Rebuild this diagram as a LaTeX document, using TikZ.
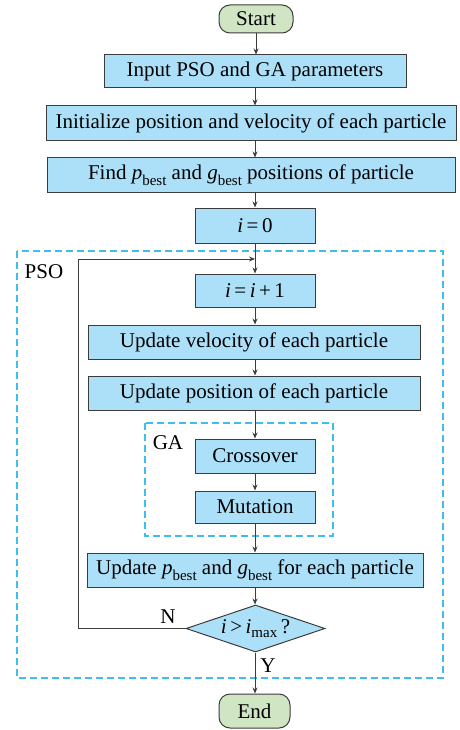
\documentclass[tikz,border=0pt]{standalone}
\usepackage{fontspec}
\setmainfont{Liberation Serif}
\usetikzlibrary{shapes.geometric,arrows.meta}
\definecolor{boxblue}{RGB}{172,224,249}
\definecolor{boxgreen}{RGB}{207,229,196}
\definecolor{dashblue}{RGB}{60,190,238}
\definecolor{edge}{RGB}{60,60,60}
\newcommand{\sbest}[1]{\textit{#1}\raisebox{-5.5pt}{\fontsize{15}{16}\selectfont best}}
\tikzset{
  procbox/.style={draw=edge,line width=1pt,fill=boxblue,inner sep=0pt,font=\fontsize{21}{24}\selectfont},
  termbox/.style={draw=edge,line width=1pt,fill=boxgreen,rounded corners=11pt,inner sep=0pt,font=\fontsize{21}{24}\selectfont},
  decbox/.style={draw=edge,line width=1pt,fill=boxblue,diamond,inner sep=0pt,font=\fontsize{21}{24}\selectfont},
  arr/.style={draw=edge,line width=0.9pt,-{Stealth[length=6pt,width=5pt]}},
  plainline/.style={draw=edge,line width=0.9pt},
  groupbox/.style={draw=dashblue,line width=1.2pt,dash pattern=on 7pt off 4pt},
  lbl/.style={font=\fontsize{21}{24}\selectfont,inner sep=0pt}
}
\begin{document}
\begin{tikzpicture}[x=1pt,y=-1pt]
\useasboundingbox (0,0) rectangle (459,730);
% groups
\draw[groupbox] (17,251) rectangle (443,678);
\draw[groupbox] (145,423) rectangle (333,536);
\node[lbl] (psolbl) at (44,272) {PSO};
\node[lbl] (galbl) at (168,443) {GA};
% nodes
\node[termbox,minimum width=74pt,minimum height=28pt] (start) at (256,19) {Start};
\node[procbox,minimum width=302pt,minimum height=33pt] (input) at (255,71.5) {Input PSO and GA parameters};
\node[procbox,minimum width=410pt,minimum height=35pt] (init) at (251,123.5) {Initialize position and velocity of each particle};
\node[procbox,minimum width=408pt,minimum height=34pt] (find) at (251,175) {Find \sbest{p} and \sbest{g} positions of particle};
\node[procbox,minimum width=120pt,minimum height=35pt] (izero) at (255,225.5) {\textit{i}\,=\,0};
\node[procbox,minimum width=120pt,minimum height=33pt] (inc) at (255,290.5) {\textit{i}\,=\,\textit{i}\,+\,1};
\node[procbox,minimum width=332pt,minimum height=34pt] (vel) at (254,342) {Update velocity of each particle};
\node[procbox,minimum width=332pt,minimum height=34pt] (pos) at (254,393) {Update position of each particle};
\node[procbox,minimum width=120pt,minimum height=34pt] (cross) at (255,456) {Crossover};
\node[procbox,minimum width=120pt,minimum height=32pt] (mut) at (255,507) {Mutation};
\node[procbox,minimum width=336pt,minimum height=34pt] (upd) at (255,570) {Update \sbest{p} and \sbest{g} for each particle};
\node[decbox,minimum width=139pt,minimum height=47pt,aspect=2.9] (dec) at (255.5,628.5) {\textit{i}\,>\,\textit{i}\raisebox{-3.5pt}{\fontsize{15}{16}\selectfont max}\,?};
\node[termbox,minimum width=71pt,minimum height=34pt] (end) at (254.5,711) {End};
\coordinate (loopL) at (78,628.5);
\coordinate (loopT) at (78,259);
\coordinate (join) at (255,259);
% edges
\draw[arr] (start.south) -- (start.south |- input.north);
\draw[arr] (input.south) -- (input.south |- init.north);
\draw[arr] (input.south |- init.south) -- (input.south |- find.north);
\draw[arr] (input.south |- find.south) -- (izero.north);
\draw[arr] (izero.south) -- (inc.north);
\draw[arr] (inc.south) -- (inc.south |- vel.north);
\draw[arr] (inc.south |- vel.south) -- (inc.south |- pos.north);
\draw[arr] (inc.south |- pos.south) -- (cross.north);
\draw[arr] (cross.south) -- (mut.north);
\draw[arr] (mut.south) -- (upd.north);
\draw[arr] (upd.south) -- (upd.south |- dec.north);
\draw[arr] (upd.south |- dec.south) -- (upd.south |- end.north);
\draw[plainline] (dec.west) -- (loopL) -- (loopT);
\draw[arr] (loopT) -- (join);
\node[lbl] (nlbl) at (168,617) {N};
\node[lbl] (ylbl) at (268,666) {Y};
\end{tikzpicture}
\end{document}
